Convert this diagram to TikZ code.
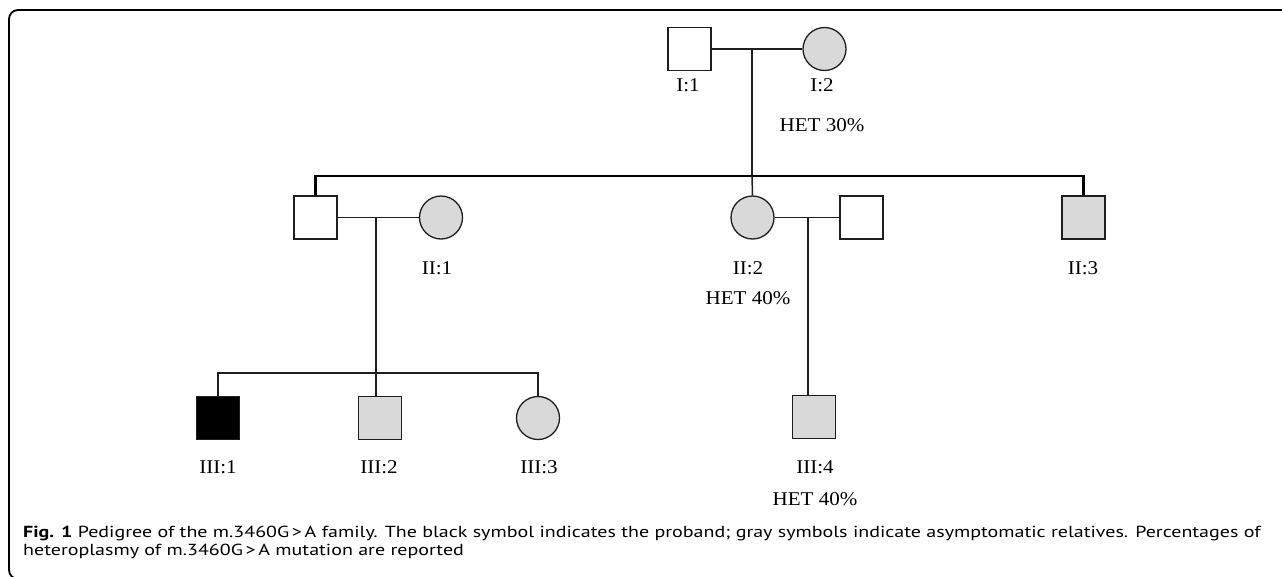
\documentclass[tikz,border=0pt]{standalone}
\usepackage{fontspec}
\newfontfamily\pedfont[FakeStretch=1.08]{Liberation Serif}
\newfontfamily\capfont[FakeStretch=1.25]{PT Sans}
\definecolor{symgray}{RGB}{217,217,217}
\definecolor{lineblk}{RGB}{30,30,30}
\begin{document}
\begin{tikzpicture}[x=1pt,y=-1pt,
  male/.style={draw=lineblk,line width=1.3pt,minimum size=43pt,inner sep=0pt,shape=rectangle},
  female/.style={draw=lineblk,line width=1.3pt,minimum size=43pt,inner sep=0pt,shape=circle},
  unaff/.style={fill=white},
  asym/.style={fill=symgray},
  proband/.style={fill=black},
  lbl/.style={font=\pedfont\fontsize{19.5}{22}\selectfont,inner sep=0pt,anchor=base},
  rel/.style={draw=lineblk,line width=1.5pt},
  sib/.style={draw=black,line width=2.6pt},
  captxt/.style={font=\capfont\fontsize{16}{18}\selectfont,inner sep=0pt,anchor=base west}
]
\useasboundingbox (0,0) rectangle (1282,576);
\begin{scope}
\clip (0,0) rectangle (1282,576);
\draw[line width=1.8pt,rounded corners=9pt] (9,10) rectangle (1320,579);
\end{scope}

% Generation I
\node[male,unaff] (I1) at (689.5,49) {};
\node[female,asym] (I2) at (824.5,49) {};
\node[lbl] (lI1) at (688,91) {I:1};
\node[lbl] (lI2) at (822,91) {I:2};
\node[lbl] (hI2) at (822,131) {HET 30\%};
\coordinate (mI) at (752,49);
\coordinate (sibIIc) at (752,176);
\coordinate (sibIIl) at (315.5,176);
\coordinate (sibIIr) at (1083.5,176);
\draw[rel] (I1.east) -- (I2.west);
\draw[rel] (mI) -- (sibIIc);

% Generation II
\node[male,unaff] (IIh1) at (315.5,217.5) {};
\node[female,asym] (II1) at (441,217.5) {};
\node[female,asym] (II2) at (752.5,217.5) {};
\node[male,unaff] (IIh2) at (861.5,217.5) {};
\node[male,asym] (II3) at (1083.5,217.5) {};
\node[lbl] (lII1) at (437,274) {II:1};
\node[lbl] (lII2) at (748,274) {II:2};
\node[lbl] (hII2) at (748,304) {HET 40\%};
\node[lbl] (lII3) at (1083,274) {II:3};

\draw[sib,line join=miter] (IIh1.north) -- (sibIIl) -- (sibIIr) -- (II3.north);
\draw[rel] (sibIIc) -- (II2.north);
\draw[rel] (IIh1.east) -- (II1.west);
\draw[rel] (II2.east) -- (IIh2.west);
\coordinate (mII1) at (376,217.5);
\coordinate (mII2) at (808,217.5);

% Generation III
\node[male,proband] (III1) at (218,418) {};
\node[male,asym] (III2) at (380,418) {};
\node[female,asym] (III3) at (538,418) {};
\node[male,asym] (III4) at (814,417) {};
\node[lbl] (lIII1) at (218,473) {III:1};
\node[lbl] (lIII2) at (379,473) {III:2};
\node[lbl] (lIII3) at (539,473) {III:3};
\node[lbl] (lIII4) at (815,473) {III:4};
\node[lbl] (hIII4) at (815,505) {HET 40\%};
\coordinate (sibIIIl) at (218,373);
\coordinate (sibIIIr) at (538,373);
\coordinate (sibIIIc) at (376,373);

\draw[rel] (mII1) -- (sibIIIc);
\draw[rel] (III1.north) -- (sibIIIl) -- (sibIIIr) -- (III3.north);
\draw[rel] (sibIIIc) -- (III2.north -| sibIIIc);
\draw[rel] (mII2) -- (III4.north -| mII2);

% Caption
\node[captxt] (cap1) at (23,537) {\textbf{Fig. 1} Pedigree of the m.3460G\,>\,A family. The black symbol indicates the proband; gray symbols indicate asymptomatic relatives. Percentages of};
\node[captxt] (cap2) at (23,555.5) {heteroplasmy of m.3460G\,>\,A mutation are reported};
\end{tikzpicture}
\end{document}
